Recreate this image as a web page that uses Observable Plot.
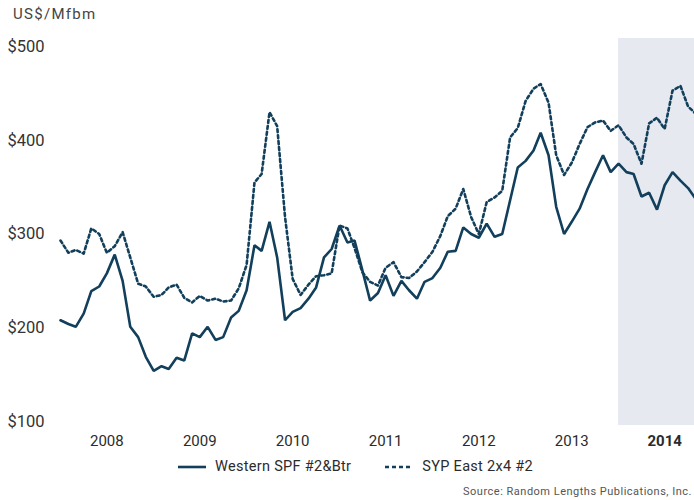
<!DOCTYPE html>
<html>
<head>
<meta charset="utf-8">
<script src="https://cdn.jsdelivr.net/npm/d3@7"></script>
<script src="https://cdn.jsdelivr.net/npm/@observablehq/plot@0.6"></script>
<style>
  html, body { margin: 0; padding: 0; background: #fff; overflow: hidden; }
  #wrap { position: relative; width: 694px; height: 500px; overflow: hidden; font-family: Roboto, "Noto Sans", sans-serif; }
  #unit { position: absolute; left: 13px; top: 5px; font-size: 15px; letter-spacing: 1.3px; color: #444; }
  #chart { position: absolute; left: 0; top: 0; width: 712px; }
  #chart svg { max-width: none !important; }
  #legend { position: absolute; left: 178px; top: 458px; font-size: 14.5px; color: #2b2b2b; display: flex; align-items: center; letter-spacing: 0.3px; }
  #legend .item { display: flex; align-items: center; margin-right: 34px; }
  #legend svg { margin-right: 9px; }
  #source { position: absolute; right: 2px; top: 485px; font-size: 11px; letter-spacing: 0.5px; color: #555; white-space: nowrap; }
</style>
</head>
<body>
<div id="wrap">
  <div id="chart"></div>
  <div id="unit">US$/Mfbm</div>
  <div id="legend"></div>
  <div id="source">Source: Random Lengths Publications, Inc.</div>
</div>
<script>
// Monthly series, Jan 2008 .. Nov 2014
const startYear = 2008;
const westernSPF = [
  208, 204, 201, 215, 239, 244, 258, 278, 250, 201, 190, 169,
  154, 159, 156, 168, 165, 194, 190, 201, 187, 190, 211, 218,
  240, 288, 282, 313, 275, 208, 217, 221, 231, 243, 275, 284,
  309, 291, 293, 261, 229, 237, 256, 234, 250, 240, 231, 249,
  253, 264, 281, 282, 307, 300, 296, 311, 297, 300, 336, 371,
  378, 389, 408, 384, 329, 300, 313, 327, 348, 366, 384, 366,
  375, 366, 364, 340, 344, 326, 352, 366, 357, 349, 337
];
const sypEast = [
  293, 280, 283, 279, 306, 300, 280, 287, 302, 275, 247, 244,
  233, 235, 243, 246, 232, 227, 234, 229, 231, 228, 229, 242,
  267, 355, 364, 430, 415, 318, 252, 235, 246, 255, 256, 258,
  309, 306, 285, 259, 249, 245, 264, 270, 254, 253, 260, 270,
  281, 298, 319, 327, 348, 318, 300, 334, 339, 346, 403, 413,
  442, 455, 460, 440, 384, 363, 376, 396, 414, 419, 421, 410,
  416, 403, 396, 375, 418, 424, 412, 453, 458, 436, 428
];
const seriesNames = ["Western SPF #2&Btr", "SYP East 2x4 #2"];
const yTicks = [100, 200, 300, 400, 500];
const yearLabels = [2008, 2009, 2010, 2011, 2012, 2013, 2014];
const highlightYear = 2014;

const color = "#123f5b";
const month = i => new Date(Date.UTC(startYear, i, 1));
const rows = [
  ...westernSPF.map((v, i) => ({date: month(i), value: v, series: seriesNames[0]})),
  ...sypEast.map((v, i) => ({date: month(i), value: v, series: seriesNames[1]}))
];
const midYear = y => new Date(Date.UTC(y, 6, 1));
const shade = [{x1: new Date(Date.UTC(highlightYear, 0, 1)), x2: new Date(Date.UTC(highlightYear + 1, 0, 1))}];

const W = 712, H = 460;
const frameTop = 38, frameBottom = 425;
// y scale: $500 at 46px, $100 at 421px
const pxPer = (421 - 46) / 400;
const yTop = 500 + (46 - frameTop) / pxPer;
const yBot = 100 - (frameBottom - 421) / pxPer;
const yearFmt = d => String(d.getUTCFullYear());

const chart = Plot.plot({
  width: W,
  height: H,
  marginTop: frameTop,
  marginBottom: H - frameBottom,
  marginLeft: 60,
  marginRight: 1,
  style: {fontFamily: "Roboto, 'Noto Sans', sans-serif", background: "transparent", maxWidth: "none"},
  x: {type: "utc", domain: [new Date(Date.UTC(startYear, 0, 1)), new Date(Date.UTC(highlightYear + 1, 0, 1))]},
  y: {domain: [yBot, yTop]},
  marks: [
    Plot.rectX(shade, {x1: "x1", x2: "x2", fill: "#e6e9ef"}),
    Plot.axisY({ticks: yTicks, tickSize: 0, textAnchor: "start", dx: -44, fontSize: 16.5, color: "#333", tickFormat: d => "$" + d, label: null}),
    Plot.axisX({ticks: yearLabels.filter(y => y !== highlightYear).map(midYear), tickSize: 0, tickPadding: 10, fontSize: 15, color: "#2b2b2b", tickFormat: yearFmt, label: null}),
    Plot.axisX({ticks: [midYear(highlightYear)], tickSize: 0, tickPadding: 10, fontSize: 15, fontWeight: "bold", color: "#2b2b2b", tickFormat: yearFmt, label: null}),
    Plot.line(rows.filter(d => d.series === seriesNames[0]), {x: "date", y: "value", stroke: color, strokeWidth: 2.6, strokeLinejoin: "miter"}),
    Plot.line(rows.filter(d => d.series === seriesNames[1]), {x: "date", y: "value", stroke: color, strokeWidth: 2.6, strokeDasharray: "3,3"})
  ]
});
document.getElementById("chart").appendChild(chart);

const legend = document.getElementById("legend");
seriesNames.forEach((name, k) => {
  const item = document.createElement("div");
  item.className = "item";
  const dash = k === 1 ? 'stroke-dasharray="4,3"' : "";
  item.innerHTML = `<svg width="28" height="6"><line x1="0" y1="3" x2="28" y2="3" stroke="${color}" stroke-width="2.6" ${dash}/></svg><span>${name.replace("&", "&amp;")}</span>`;
  legend.appendChild(item);
});
</script>
</body>
</html>
